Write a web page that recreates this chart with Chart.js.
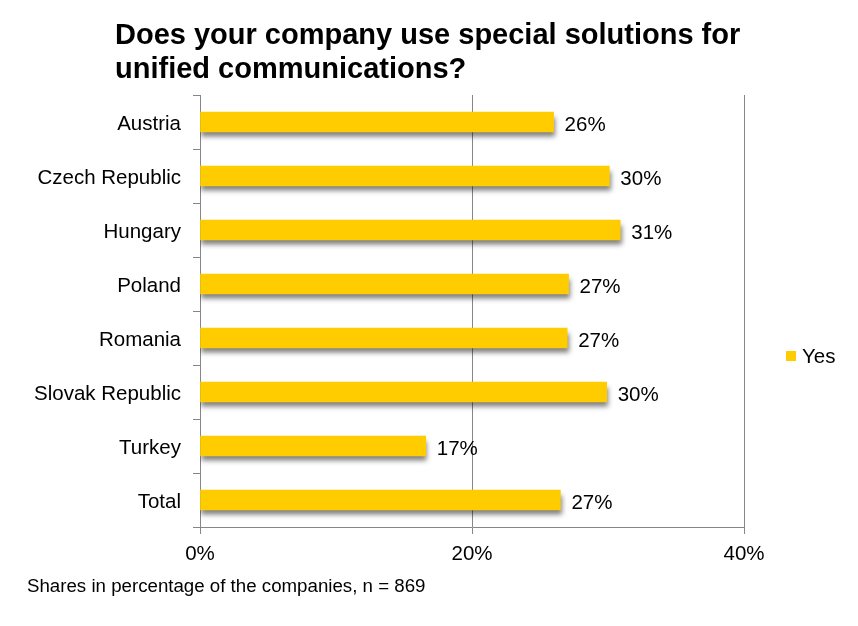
<!DOCTYPE html>
<html>
<head>
<meta charset="utf-8">
<script src="https://cdn.jsdelivr.net/npm/chart.js@4.4.1/dist/chart.umd.min.js"></script>
<style>
  body { margin: 0; background: #fff; }
</style>
</head>
<body>
<canvas id="myChart" width="858" height="626"></canvas>
<script>
const countries = ['Austria', 'Czech Republic', 'Hungary', 'Poland', 'Romania', 'Slovak Republic', 'Turkey', 'Total'];
const yesShares = [26.0, 30.1, 30.9, 27.1, 27.0, 29.9, 16.6, 26.5];
const xTicks = [0, 20, 40];
const seriesName = 'Yes';
const titleLines = ['Does your company use special solutions for', 'unified communications?'];
const footnote = 'Shares in percentage of the companies, n = 869';

const FONT = '"Liberation Sans", Arial, sans-serif';
const yellow = '#FFCC00';
const gray = '#868686';

// drop shadow under the bars
const barShadow = {
    id: 'barShadow',
    beforeDatasetDraw(chart) {
        const ctx = chart.ctx;
        ctx.save();
        ctx.shadowColor = 'rgba(0,0,0,0.5)';
        ctx.shadowBlur = 5;
        ctx.shadowOffsetX = 1;
        ctx.shadowOffsetY = 5;
    },
    afterDatasetDraw(chart) {
        chart.ctx.restore();
    }
};

// value labels, title, footnote, legend
const extras = {
    id: 'extras',
    afterDatasetsDraw(chart) {
        const ctx = chart.ctx;
        const meta = chart.getDatasetMeta(0);
        ctx.save();
        ctx.font = '20.5px ' + FONT;
        ctx.fillStyle = '#000';
        ctx.textAlign = 'left';
        ctx.textBaseline = 'middle';
        meta.data.forEach((bar, i) => {
            ctx.fillText(Math.round(yesShares[i]) + '%', bar.x + 11, bar.y + 3);
        });
        ctx.restore();
    },
    afterDraw(chart) {
        const ctx = chart.ctx;
        ctx.save();
        ctx.fillStyle = '#000';
        ctx.textAlign = 'left';
        ctx.textBaseline = 'alphabetic';
        ctx.font = 'bold 29px ' + FONT;
        titleLines.forEach((t, i) => {
            ctx.fillText(t, 115, 44 + i * 34);
        });

        ctx.font = '18.7px ' + FONT;
        ctx.fillText(footnote, 27, 592);

        ctx.fillStyle = yellow;
        ctx.fillRect(786, 351, 10, 10);
        ctx.fillStyle = '#000';
        ctx.font = '20.5px ' + FONT;
        ctx.textBaseline = 'middle';
        ctx.fillText(seriesName, 802, 357);
        ctx.restore();
    }
};

let myChart = new Chart(document.getElementById('myChart'), {
    type: 'bar',
    data: {
        labels: countries,
        datasets: [{
            label: seriesName,
            data: yesShares,
            backgroundColor: yellow,
            borderWidth: 0,
            barThickness: 20
        }]
    },
    options: {
        indexAxis: 'y',
        responsive: false,
        animation: false,
        layout: { padding: { top: 95, right: 114, bottom: 59, left: 0 } },
        plugins: {
            legend: { display: false },
            title: { display: false },
            tooltip: { enabled: false }
        },
        scales: {
            x: {
                min: 0,
                max: 40,
                afterBuildTicks: (scale) => {
                    scale.ticks = xTicks.map(v => ({ value: v }));
                },
                afterFit: (scale) => { scale.height = 40; },
                ticks: {
                    callback: (v) => v + '%',
                    color: '#000',
                    font: { family: FONT, size: 20.5 },
                    padding: 8,
                    maxRotation: 0
                },
                grid: { color: gray, tickLength: 7, lineWidth: 1 },
                border: { display: true, color: gray }
            },
            y: {
                afterFit: (scale) => { scale.width = 200; },
                ticks: {
                    color: '#000',
                    font: { family: FONT, size: 20.5 },
                    padding: 12,
                    labelOffset: 2
                },
                grid: { drawOnChartArea: false, color: gray, tickLength: 7 },
                border: { display: true, color: gray }
            }
        }
    },
    plugins: [barShadow, extras]
});
</script>
</body>
</html>
